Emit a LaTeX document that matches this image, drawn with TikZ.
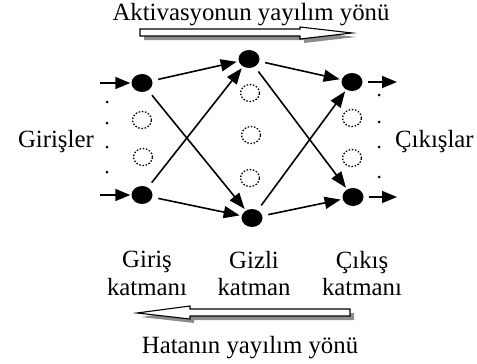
\documentclass[tikz,border=0pt]{standalone}
\usepackage{fontspec}
\setmainfont{Liberation Serif}
\usepackage{xcolor}
\usetikzlibrary{arrows.meta,positioning,shapes.geometric}

\begin{document}
\begin{tikzpicture}[x=1pt, y=-1pt,
      neuron/.style={ellipse, fill=black, minimum width=21pt, minimum height=18pt, inner sep=0pt},
      hidn/.style={ellipse, draw, line width=1.3pt, dash pattern=on 1.5pt off 1.7pt, minimum width=19pt, minimum height=17pt, inner sep=0pt},
      lbl/.style={font=\fontsize{24.8}{27.5}\selectfont, inner sep=0pt},
      link/.style={line width=1.6pt, -{Triangle[length=16pt,width=12pt]}, shorten <=6pt, shorten >=2pt},
      io/.style={line width=1.6pt, -{Triangle[length=15pt,width=12pt]}},
      blk/.style={draw=black, fill=white, line width=1.1pt},
      blkshadow/.style={fill=black!45, draw=none}]
    \useasboundingbox (0,0) rectangle (477,364);
    % input layer
    \node[neuron] (in1) at (142,83)  {};
    \node[hidn]   (in2) at (142,120) {};
    \node[hidn]   (in3) at (143,157) {};
    \node[neuron] (in4) at (142,195) {};
    % hidden layer
    \node[neuron] (h1) at (249,59)  {};
    \node[hidn]   (h2) at (250,93)  {};
    \node[hidn]   (h3) at (251,135) {};
    \node[hidn]   (h4) at (250,178) {};
    \node[neuron] (h5) at (252,218) {};
    % output layer
    \node[neuron] (out1) at (352,82)  {};
    \node[hidn]   (out2) at (352,118) {};
    \node[hidn]   (out3) at (352,158) {};
    \node[neuron] (out4) at (353,197) {};
    % dots
    \foreach \yy in {102,123,147,172} \fill (107,\yy) circle (1.5pt);
    \foreach \yy in {95,122,147,177} \fill (379,\yy) circle (1.5pt);
    % inputs and outputs
    \coordinate (a1) at (100,83);
    \coordinate (a4) at (100,195);
    \coordinate (b1) at (397,82);
    \coordinate (b4) at (397,197);
    \draw[io, shorten >=1pt] (a1) -- (in1);
    \draw[io, shorten >=1pt] (a4) -- (in4);
    \draw[io, shorten <=5pt] (out1) -- (b1);
    \draw[io, shorten <=5pt] (out4) -- (b4);
    % links
    \draw[link] (in1) -- (h1);
    \draw[link] (in1) -- (h5);
    \draw[link] (in4) -- (h1);
    \draw[link] (in4) -- (h5);
    \draw[link] (h1) -- (out1);
    \draw[link] (h1) -- (out4);
    \draw[link] (h5) -- (out1);
    \draw[link] (h5) -- (out4);
    % texts
    \node[lbl, anchor=base] (top) at (251,20) {Aktivasyonun yayılım yönü};
    \node[lbl, anchor=base] (bot) at (250,353) {Hatanın yayılım yönü};
    \node[lbl, anchor=base east] (gir) at (94,147) {Girişler};
    \node[lbl, anchor=base west] (cik) at (395,147) {Çıkışlar};
    \node[lbl, anchor=north, align=center] (l1) at (147,251) {Giriş\\katmanı};
    \node[lbl, anchor=north, align=center] (l2) at (254,251) {Gizli\\katman};
    \node[lbl, anchor=north, align=center] (l3) at (362,251) {Çıkış\\katmanı};
    % block arrows
    \fill[blkshadow, shift={(4,4)}] (140,29) -- (300,29) -- (300,27) -- (352,33) -- (300,39) -- (300,36) -- (140,36) -- cycle;
    \draw[blk] (140,29) -- (300,29) -- (300,27) -- (352,33) -- (300,39) -- (300,36) -- (140,36) -- cycle;
    \fill[blkshadow, shift={(4,4)}] (137,313) -- (190,306) -- (190,309) -- (350,309) -- (350,316) -- (190,316) -- (190,319) -- cycle;
    \draw[blk] (137,313) -- (190,306) -- (190,309) -- (350,309) -- (350,316) -- (190,316) -- (190,319) -- cycle;
\end{tikzpicture}
\end{document}
